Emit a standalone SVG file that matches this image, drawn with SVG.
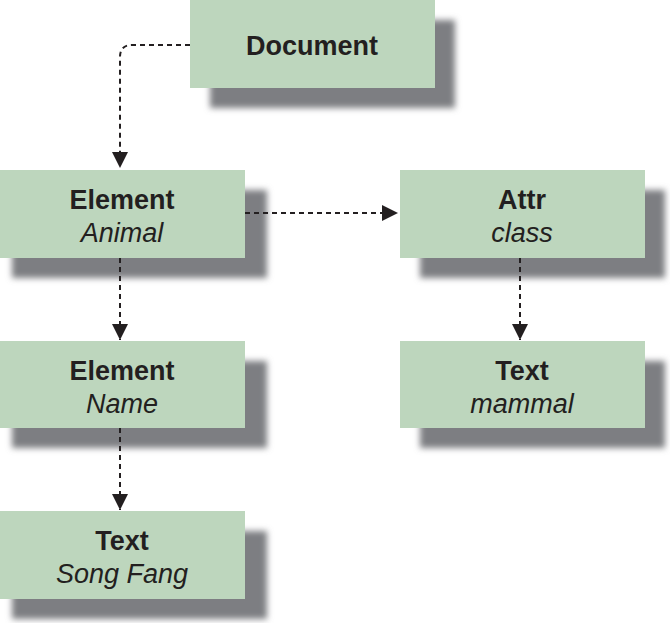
<svg xmlns="http://www.w3.org/2000/svg" width="670" height="623" viewBox="0 0 670 623">
<style>
.box{fill:#bdd6bd}
.sh{fill:#7d7e82;filter:url(#b)}
.t{font-family:"Liberation Sans Narrow","Liberation Sans",sans-serif;font-size:27px;fill:#231f20;text-anchor:middle}
.b{font-weight:bold}
.i{font-style:italic}
.c{fill:none;stroke:#231f20;stroke-width:2;stroke-dasharray:5,4}
</style>
<defs>
<filter id="b" x="-10%" y="-20%" width="120%" height="140%"><feGaussianBlur stdDeviation="3"/></filter>
<marker id="a" viewBox="0 0 10 10" refX="10" refY="5" markerWidth="16" markerHeight="16" markerUnits="userSpaceOnUse" orient="auto"><path d="M0,0L10,5L0,10z" fill="#231f20"/></marker>
</defs>
<g id="document"><rect class="sh" x="210" y="20" width="245" height="88"/><rect class="box" x="190" y="0" width="245" height="88"/><text class="t b" x="312" y="55">Document</text></g>
<g id="element-animal"><rect class="sh" x="12" y="190" width="255" height="88"/><rect class="box" x="0" y="170" width="245" height="88"/><text class="t b" x="122" y="209">Element</text><text class="t i" x="122" y="242">Animal</text></g>
<g id="attr-class"><rect class="sh" x="420" y="190" width="245" height="88"/><rect class="box" x="400" y="170" width="245" height="88"/><text class="t b" x="522" y="209">Attr</text><text class="t i" x="522" y="242">class</text></g>
<g id="element-name"><rect class="sh" x="12" y="361" width="255" height="87"/><rect class="box" x="0" y="341" width="245" height="87"/><text class="t b" x="122" y="380">Element</text><text class="t i" x="122" y="413">Name</text></g>
<g id="text-mammal"><rect class="sh" x="420" y="361" width="245" height="87"/><rect class="box" x="400" y="341" width="245" height="87"/><text class="t b" x="522" y="380">Text</text><text class="t i" x="522" y="413">mammal</text></g>
<g id="text-songfang"><rect class="sh" x="12" y="531" width="255" height="88"/><rect class="box" x="0" y="511" width="245" height="88"/><text class="t b" x="122" y="550">Text</text><text class="t i" x="122" y="583">Song Fang</text></g>
<g id="connectors">
<path class="c" d="M190,45H132Q120,45 120,57V168" marker-end="url(#a)"/>
<path class="c" d="M245,213H398" marker-end="url(#a)"/>
<path class="c" d="M120,258V340" marker-end="url(#a)"/>
<path class="c" d="M520,258V340" marker-end="url(#a)"/>
<path class="c" d="M120,428V510" marker-end="url(#a)"/>
</g>
</svg>
